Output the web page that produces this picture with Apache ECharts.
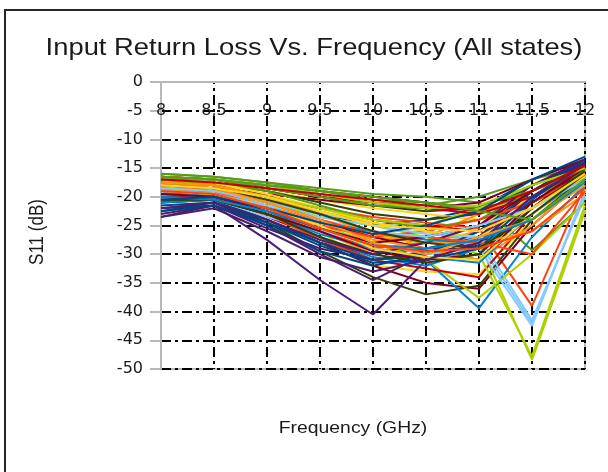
<!DOCTYPE html>
<html>
<head>
<meta charset="utf-8">
<script src="https://cdn.jsdelivr.net/npm/echarts@6/dist/echarts.min.js"></script>
<style>
  html, body { margin: 0; padding: 0; background: #fff; }
  #chart { width: 608px; height: 472px; }
</style>
</head>
<body>
<div id="chart"></div>
<script>
// Frequency points (GHz), labelled with a decimal comma
const frequencies = ['8', '8,5', '9', '9,5', '10', '10,5', '11', '11,5', '12'];

// S11 (dB) for each switching state, one array per state
const state00 = [-19.5, -19, -21, -23, -25, -24, -22, -17, -13.5];
const state01 = [-17, -18, -20, -22, -23.5, -24.5, -25.5, -39, -18];
const state02 = [-18.5, -19, -22, -26, -32, -33, -33.5, -24, -16];
const state03 = [-16, -16.5, -17.5, -18.5, -19.5, -20, -21, -29.3, -21];
const state04 = [-20.5, -20.5, -24, -28, -32, -35, -36, -25, -17];
const state05 = [-18, -19, -21, -23, -24.5, -26, -28, -42, -19.5];
const state06 = [-21, -20.5, -24.5, -29.5, -34, -37, -35.5, -24, -16.5];
const state07 = [-17, -18, -20.5, -22.5, -24.5, -26, -28, -48.4, -22.5];
const state08 = [-23.5, -21.5, -27.5, -34.5, -40.5, -31, -27, -21, -15.5];
const state09 = [-17.5, -18.5, -21, -24, -27, -28, -26, -20, -15];
const state10 = [-16.5, -17, -18, -19, -20, -21, -22, -18, -14];
const state11 = [-19, -20, -23, -25.5, -28, -31, -39.4, -27, -18];
const state12 = [-21, -20.5, -24, -28, -30, -29, -27, -19, -14];
const state13 = [-19, -19.5, -22.5, -26, -29, -28, -25, -20, -16];
const state14 = [-17.5, -18, -19, -20.5, -22, -23, -24, -19, -15];
const state15 = [-16.5, -17, -18, -19.5, -21, -21.5, -20, -17, -14.5];
const state16 = [-18, -18.5, -19.5, -20.5, -21.5, -22, -21, -17, -13.5];
const state17 = [-19.5, -20, -22, -24, -26, -28, -27, -41.5, -20];
const state18 = [-17, -17.5, -19, -21, -23, -24, -23, -18, -14.5];
const state19 = [-18.5, -19.5, -22, -25, -28, -31, -37.6, -30, -21];
const state20 = [-22.5, -21, -25, -30, -34.5, -30, -28, -21, -15];
const state21 = [-18, -19, -22, -26, -30, -27, -23, -19, -15.5];
const state22 = [-20, -20, -23.5, -27, -31, -32.5, -34, -23, -16];
const state23 = [-20.5, -20, -23, -27, -30.5, -32, -29, -22, -16];
const state24 = [-22, -21.5, -25, -29.5, -32, -30, -28.5, -20, -14];
const state25 = [-19.5, -20, -23, -27.5, -31, -30, -26, -21, -16.5];
const state26 = [-18, -18.5, -20.5, -23, -26, -27, -25, -20, -15.5];
const state27 = [-17, -17.5, -19, -21.5, -24, -25.5, -24, -19, -15];
const state28 = [-19, -19.5, -21.5, -24.5, -27, -29, -31, -22, -15];
const state29 = [-20, -20.5, -23.5, -26, -28, -30, -29, -42.5, -19];
const state30 = [-16.5, -17, -18.5, -20, -21.5, -22.5, -22, -18, -14];
const state31 = [-17.5, -18.5, -21, -23.5, -25, -27, -30, -47.8, -21.5];
const state32 = [-23, -21.5, -25.5, -29, -31, -29.5, -27, -19, -14];
const state33 = [-18.5, -19, -21.5, -24.5, -27.5, -29, -31, -25, -17];
const state34 = [-17.5, -18, -20, -22, -24, -25, -26, -21, -16];
const state35 = [-21, -20.5, -23, -26.5, -29, -30.5, -31.5, -23, -16.5];
const state36 = [-21.5, -21, -24.5, -28, -31, -30, -26, -19, -13.5];
const state37 = [-18.5, -19, -22, -25, -27, -26, -24, -21, -16];
const state38 = [-17, -17.5, -19.5, -22, -24.5, -26, -27, -22, -16.5];
const state39 = [-16, -16.5, -17.5, -19, -20.5, -21, -22, -20, -15.5];
const state40 = [-20, -20.5, -23, -26, -29.5, -31, -30, -21, -15];
const state41 = [-19, -19.5, -21.5, -23.5, -25, -26.5, -27, -24, -17];
const state42 = [-20.5, -20.5, -23, -27, -30, -31.5, -30, -22, -15.5];
const state43 = [-17.5, -18, -20, -22, -24, -25, -22, -18, -15];
const state44 = [-22, -21, -24, -27.5, -30, -28, -25, -18, -13.5];
const state45 = [-17.5, -18, -20, -23, -26.5, -28, -28, -26, -19.5];
const state46 = [-16.5, -17, -18.5, -20, -21, -22, -23, -20, -15];
const state47 = [-19.5, -20, -22, -24.5, -26, -27.5, -28, -20, -14.5];
const state48 = [-22.5, -21.5, -24.5, -28.5, -31.5, -31, -29, -20.5, -14];
const state49 = [-18, -18.5, -21, -24, -26.5, -27, -28, -30, -19];
const state50 = [-19, -19.5, -22, -25, -29, -30.5, -31, -23, -16];
const state51 = [-17, -17, -18.5, -20, -21.5, -22, -21.5, -19, -15];
const state52 = [-19.5, -20, -22.5, -25.5, -28, -27, -25, -19, -14.5];
const state53 = [-18.5, -19, -21, -23, -26, -27, -25, -22, -17];
const state54 = [-18, -18.5, -20.5, -23, -26, -28, -29, -23, -16];
const state55 = [-16.5, -17, -18, -19.5, -21, -22, -21.5, -18, -15];
const state56 = [-23.5, -22, -26, -30.5, -33, -31, -28, -20, -14.5];
const state57 = [-18, -18.5, -21, -24, -28, -30, -27, -24, -18];
const state58 = [-17, -17.5, -18.5, -19.5, -20.5, -21.5, -22.5, -19, -14.5];
const state59 = [-20, -20.5, -22.5, -25.5, -28.5, -29, -27.5, -24, -17.5];
const state60 = [-20.5, -20, -22, -24.5, -26.5, -25, -22.5, -17, -13];
const state61 = [-19, -19.5, -22, -25.5, -28.5, -29.5, -29, -26, -18.5];
const state62 = [-18, -18.5, -20, -22.5, -25, -25.5, -26, -22, -16];
const state63 = [-16.5, -17, -18, -19, -20, -21, -22.5, -24, -17];

const allStates = [
  state00, state01, state02, state03, state04, state05, state06, state07,
  state08, state09, state10, state11, state12, state13, state14, state15,
  state16, state17, state18, state19, state20, state21, state22, state23,
  state24, state25, state26, state27, state28, state29, state30, state31,
  state32, state33, state34, state35, state36, state37, state38, state39,
  state40, state41, state42, state43, state44, state45, state46, state47,
  state48, state49, state50, state51, state52, state53, state54, state55,
  state56, state57, state58, state59, state60, state61, state62, state63
];

// Office-style 12-colour series palette
const palette = ['#004586', '#ff420e', '#ffd320', '#579d1c', '#7e0021', '#83caff',
                 '#314004', '#aecf00', '#4b1f6f', '#ff950e', '#c5000b', '#0084d1'];

const chart = echarts.init(document.getElementById('chart'), null, { renderer: 'canvas' });

const gridDash = [10, 4, 3, 4];
const textFont = '"Liberation Sans", Arial, sans-serif';
const tickFont = '"DejaVu Sans", sans-serif';

chart.setOption({
  animation: false,
  backgroundColor: '#ffffff',
  color: palette,
  grid: {
    left: 161, right: 23, top: 82, bottom: 103,
    show: true, borderColor: '#b8b8b8', borderWidth: 2, backgroundColor: 'transparent'
  },
  xAxis: {
    type: 'category',
    data: frequencies,
    position: 'top',
    boundaryGap: false,
    axisLine: { lineStyle: { color: '#b8b8b8', width: 2 } },
    axisTick: { show: false },
    axisLabel: {
      inside: true, margin: 21,
      color: '#1a1a1a', fontFamily: tickFont, fontSize: 16
    },
    splitLine: {
      show: true, showMinLine: false,
      lineStyle: { color: '#000', width: 2, type: gridDash, dashOffset: 8 }
    }
  },
  yAxis: {
    type: 'value',
    min: -50, max: 0, interval: 5,
    axisLine: { show: true, lineStyle: { color: '#b8b8b8', width: 2 } },
    axisTick: { show: true, length: 11, lineStyle: { color: '#b8b8b8', width: 2 } },
    axisLabel: {
      margin: 18, color: '#1a1a1a', fontFamily: tickFont, fontSize: 16
    },
    splitLine: {
      show: true, showMaxLine: false,
      lineStyle: { color: '#000', width: 2, type: gridDash }
    }
  },
  graphic: [
    {
      type: 'rect', silent: true, z: 100,
      shape: { x: 5, y: 10, width: 900, height: 800 },
      style: { fill: 'none', stroke: '#262626', lineWidth: 2 }
    },
    {
      type: 'text', x: 314, y: 48, scaleX: 1.14,
      style: {
        text: 'Input Return Loss Vs. Frequency (All states)',
        font: '24px ' + textFont, fill: '#1a1a1a',
        textAlign: 'center', textVerticalAlign: 'middle'
      }
    },
    {
      type: 'text', x: 353, y: 428, scaleX: 1.14,
      style: {
        text: 'Frequency (GHz)',
        font: '17px ' + textFont, fill: '#1a1a1a',
        textAlign: 'center', textVerticalAlign: 'middle'
      }
    },
    {
      type: 'text', x: 38, y: 232, rotation: Math.PI / 2, scaleY: 1.14,
      style: {
        text: 'S11 (dB)',
        font: '17px ' + textFont, fill: '#1a1a1a',
        textAlign: 'center', textVerticalAlign: 'middle'
      }
    }
  ],
  series: allStates.map(function (values, i) {
    return {
      name: 'State ' + i,
      type: 'line',
      data: values,
      symbol: 'none',
      lineStyle: { width: 2 },
      emphasis: { disabled: true }
    };
  })
});
</script>
</body>
</html>
